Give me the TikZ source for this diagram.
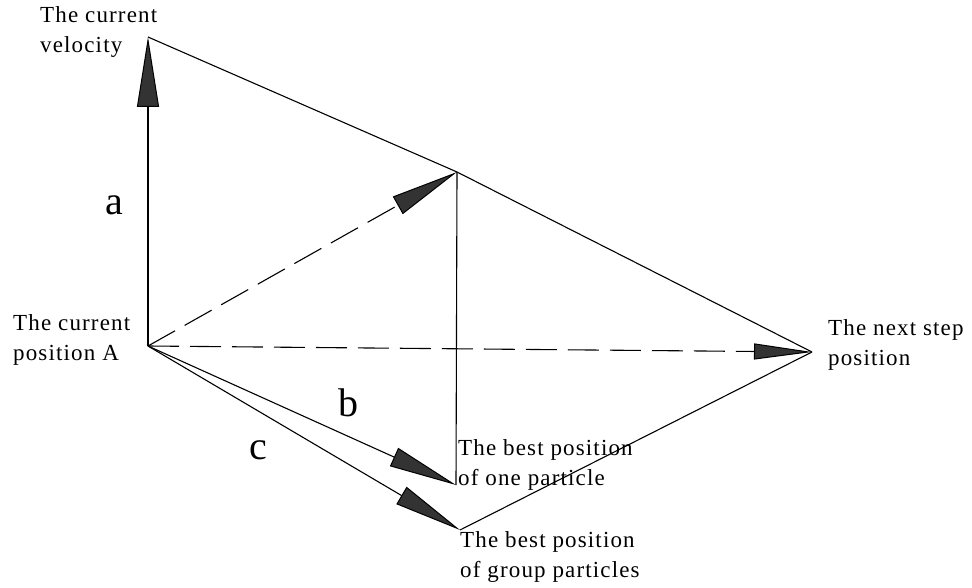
\documentclass[tikz,border=0pt]{standalone}
\usepackage{fontspec}
\setmainfont[LetterSpace=5]{Liberation Serif}
\newfontfamily\letterfont{Liberation Serif}
\usetikzlibrary{arrows.meta}
\definecolor{tipfill}{HTML}{333333}
\tikzset{
  conn/.style={line width=1.1pt, draw=black},
  dashconn/.style={conn, dash pattern=on 31pt off 11pt},
  bigtip/.style={-{Triangle[length=68pt,width=20pt,fill=tipfill,line width=1pt]}},
  label/.style={anchor=base west, inner sep=0pt, align=left, font=\fontsize{23}{30}\selectfont},
  letter/.style={inner sep=0pt, font=\letterfont\fontsize{40}{40}\selectfont}
}
\begin{document}
\begin{tikzpicture}[x=1pt,y=-1pt]
\useasboundingbox (0,0) rectangle (972,588);
\coordinate (A) at (148,346);
\coordinate (V) at (148,37);
\coordinate (M) at (457,172);
\coordinate (N) at (812,352);
\coordinate (P) at (456,485);
\coordinate (G) at (460,530);

\draw[conn] (V) -- (M) -- (N);
\draw[conn] (M) -- (P);
\draw[conn] (G) -- (N);
\draw[conn,-{Triangle[length=70pt,width=22pt,fill=tipfill,line width=1pt]}] (A) -- (V);
\draw[dashconn,bigtip] (A) -- (M);
\draw[dashconn,-{Triangle[length=58pt,width=16pt,fill=tipfill,line width=1pt]}] (A) -- (N);
\draw[conn,bigtip] (A) -- (P);
\draw[conn,bigtip] (A) -- (G);

\node[label] (lv) at (40,53) {The current\\velocity};
\node[label] (la) at (13,360) {The current\\position A};
\node[label] (ln) at (828,365) {The next step\\position};
\node[label] (lp) at (458,485) {The best position\\of one particle};
\node[label] (lg) at (460,577) {The best position\\of group particles};
\node[letter] (a) at (114,205) {a};
\node[letter] (b) at (348,403) {b};
\node[letter] (c) at (258,450) {c};
\end{tikzpicture}
\end{document}
